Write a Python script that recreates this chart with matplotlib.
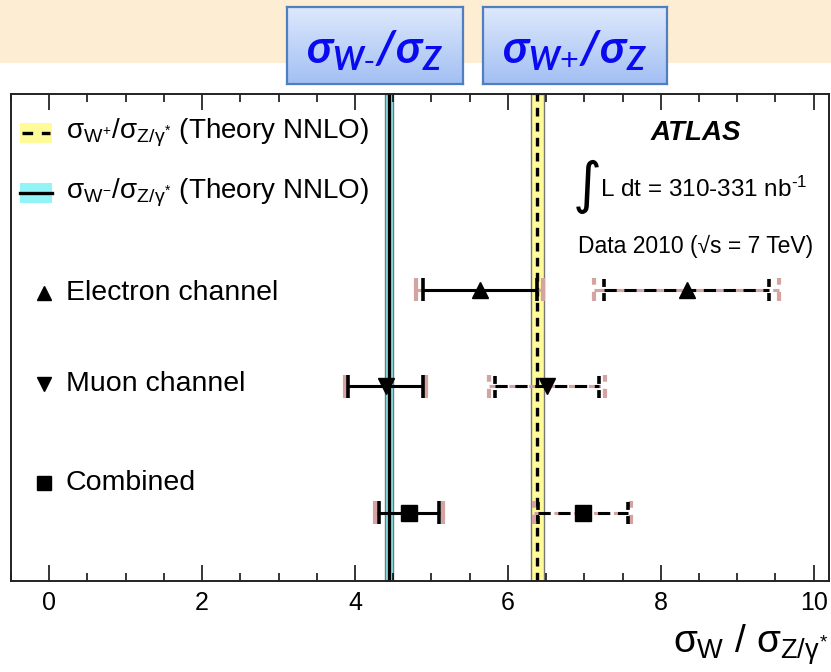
import numpy as np
import matplotlib
matplotlib.use("Agg")
import matplotlib.pyplot as plt
from matplotlib.ticker import MultipleLocator
from matplotlib.patches import Rectangle
from matplotlib.lines import Line2D
from matplotlib.colors import LinearSegmentedColormap

plt.rcParams['font.family'] = ['Liberation Sans', 'DejaVu Sans']
plt.rcParams['mathtext.fontset'] = 'custom'
plt.rcParams['mathtext.rm'] = 'Liberation Sans'
plt.rcParams['mathtext.it'] = 'Liberation Sans'
plt.rcParams['mathtext.bf'] = 'Liberation Sans:bold'
plt.rcParams['mathtext.bfit'] = 'Lato:bold:italic'

# ---- measurements: W-/Z and W+/Z cross-section ratios per channel ----
channels = ["Electron channel", "Muon channel", "Combined"]
markers = ["^", "v", "s"]

wminus_val = [5.63, 4.40, 4.71]
wminus_stat = [0.745, 0.49, 0.395]
wminus_tot = [0.83, 0.535, 0.445]

wplus_val = [8.34, 6.51, 6.98]
wplus_stat = [1.08, 0.675, 0.585]
wplus_tot = [1.21, 0.755, 0.635]

# NNLO predictions
theory_wminus, theory_wminus_err = 4.445, 0.055
theory_wplus, theory_wplus_err = 6.385, 0.085

xticks = [0, 2, 4, 6, 8, 10]

# ---- layout ----
W, H = 831, 672
fig = plt.figure(figsize=(W / 100, H / 100), dpi=100)
fig.patch.set_facecolor("white")

def fx(px):
    return px / W

def fy(py):
    return 1 - py / H

# banner strip
fig.patches.append(Rectangle((0, fy(63)), 1, 63 / H, transform=fig.transFigure,
                             facecolor="#FCEDD3", edgecolor="none", zorder=-5))

grad = LinearSegmentedColormap.from_list("box", ["#A3C0F3", "#DDE8FC"])
for (x0, x1), label in [((287, 463), r"$\mathbfit{\sigma_{W\text{-}}/\sigma_{Z}}$"),
                        ((483, 667), r"$\mathbfit{\sigma_{W\text{+}}/\sigma_{Z}}$")]:
    bax = fig.add_axes([fx(x0), fy(84), fx(x1 - x0), 77 / H])
    bax.imshow(np.linspace(0, 1, 64).reshape(-1, 1), cmap=grad, aspect="auto",
               extent=[0, 1, 0, 1], origin="lower")
    bax.set_xticks([])
    bax.set_yticks([])
    for s in bax.spines.values():
        s.set_color("#4F7FC0")
        s.set_linewidth(1.6)
    bax.text(0.5, 0.42, label, color="#0A0AF0", fontsize=33,
             ha="center", va="center", transform=bax.transAxes)

ax = fig.add_axes([fx(11), fy(581), fx(818), 487 / H])
ax.set_xlim(-0.5, 10.2)
ax.set_ylim(0, 1)
ax.set_yticks([])
ax.set_xticks(xticks)
ax.set_xticklabels([str(t) for t in xticks])
ax.xaxis.set_minor_locator(MultipleLocator(0.5))
ax.tick_params(axis="x", which="both", direction="in", top=True, bottom=True,
               labelsize=18, pad=7, colors="black")
ax.tick_params(axis="x", which="major", length=11.5, width=1.1)
ax.tick_params(axis="x", which="minor", length=5.8, width=1.1)
for s in ax.spines.values():
    s.set_linewidth(1.4)
    s.set_color("#222222")

row_y = [0.598, 0.400, 0.140]
CAP = 0.0235
PINK = "#D6A3A3"

# theory bands
ax.axvspan(theory_wminus - theory_wminus_err, theory_wminus + theory_wminus_err,
           facecolor="#86EEF2", edgecolor="#777777", lw=1.0, zorder=1)
ax.axvline(theory_wminus, color="black", lw=2.4, zorder=2)
ax.axvspan(theory_wplus - theory_wplus_err, theory_wplus + theory_wplus_err,
           facecolor="#FFFB99", edgecolor="#777777", lw=1.0, zorder=1)
ax.axvline(theory_wplus, color="black", lw=2.4, ls=(0, (2.6, 1.9)), zorder=2)


def draw_ratio(vals, stat, tot, bar_ls, cap_ls):
    for y, v, s, t, m in zip(row_y, vals, stat, tot, markers):
        ax.hlines(y, v - t, v + t, colors=PINK, lw=2.2, linestyles=[bar_ls], zorder=3)
        ax.vlines([v - t, v + t], y - CAP, y + CAP, colors=PINK, lw=3.0,
                  linestyles=[cap_ls], zorder=3)
        ax.hlines(y, v - s, v + s, colors="black", lw=2.2, linestyles=[bar_ls], zorder=4)
        ax.vlines([v - s, v + s], y - CAP, y + CAP, colors="black", lw=2.6,
                  linestyles=[cap_ls], zorder=4)
        ax.plot([v], [y], marker=m, ms=12, color="black", ls="none", zorder=5)


draw_ratio(wminus_val, wminus_stat, wminus_tot, "solid", "solid")
draw_ratio(wplus_val, wplus_stat, wplus_tot, (0, (4.0, 2.5)), (0, (2.2, 1.7)))

# legend
T = ax.transAxes
ax.add_patch(Rectangle((0.011, 0.900), 0.039, 0.040, transform=T,
                       facecolor="#FFFB99", edgecolor="none", zorder=6))
ax.add_line(Line2D([0.014, 0.048], [0.920, 0.920], transform=T, color="black",
                   lw=2.4, ls=(0, (3.2, 2.6)), zorder=7))
ax.add_patch(Rectangle((0.011, 0.777), 0.039, 0.040, transform=T,
                       facecolor="#93F4F8", edgecolor="none", zorder=6))
ax.add_line(Line2D([0.011, 0.050], [0.797, 0.797], transform=T, color="black",
                   lw=2.4, zorder=7))
ax.text(0.067, 0.920, r"$\sigma_{W^{+}}/\sigma_{Z/\gamma^{*}}$ (Theory NNLO)",
        transform=T, fontsize=20, va="center", ha="left")
ax.text(0.067, 0.797, r"$\sigma_{W^{-}}/\sigma_{Z/\gamma^{*}}$ (Theory NNLO)",
        transform=T, fontsize=20, va="center", ha="left")

legend_y = [0.591, 0.4045, 0.201]
for ly, m, name in zip(legend_y, markers, channels):
    ax.plot([0.040], [ly], marker=m, ms=9.5, color="black", ls="none",
            transform=T, zorder=7)
    ax.text(0.067, ly, name, transform=T, fontsize=20.5, va="center", ha="left")

# experiment labels
ax.text(0.837, 0.920, "ATLAS", transform=T, fontsize=20, fontweight="bold",
        fontstyle="italic", ha="center", va="center")
ax.text(0.704, 0.810, "\u222b", transform=T, fontsize=40, ha="center", va="center",
        family="DejaVu Sans")
ax.text(0.720, 0.805, r"L dt = 310-331 nb$^{\text{-1}}$", transform=T, fontsize=17.5,
        ha="left", va="center")
ax.text(0.837, 0.688, "Data 2010 (\u221as = 7 TeV)", transform=T, fontsize=16.5,
        ha="center", va="center")

# axis title
fig.text(fx(828), fy(645), r"$\sigma_{W}$ / $\sigma_{Z/\gamma^{*}}$", fontsize=28,
         ha="right", va="center")

fig.savefig("out.png", dpi=100)
